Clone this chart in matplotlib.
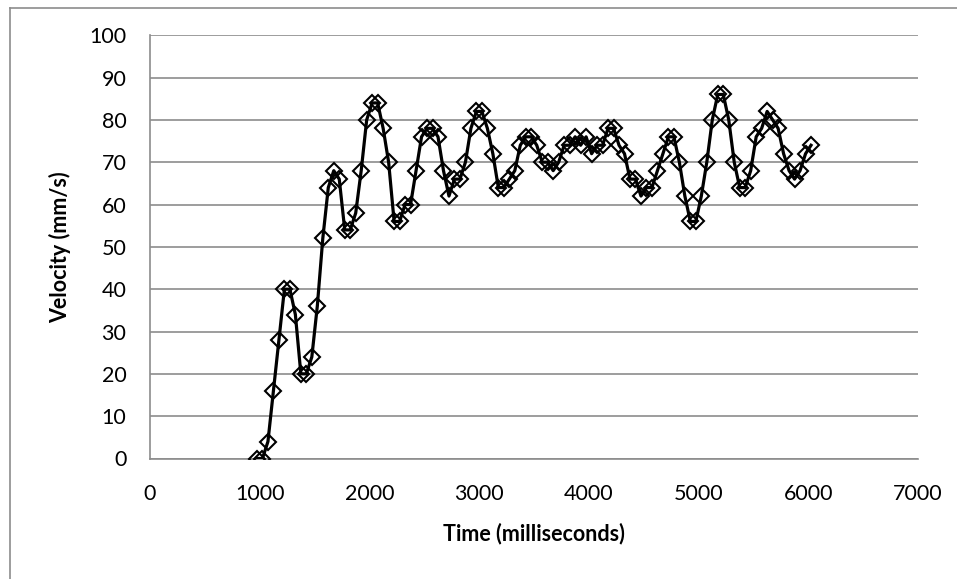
import matplotlib
matplotlib.use("Agg")
import matplotlib.pyplot as plt
from matplotlib.lines import Line2D

# Sample times (ms) and measured velocity (mm/s)
time_ms = [975, 1025, 1075, 1125, 1175, 1225, 1275, 1325, 1375, 1425,
           1475, 1525, 1575, 1625, 1675, 1725, 1775, 1825, 1875, 1925,
           1975, 2025, 2075, 2125, 2175, 2225, 2275, 2325, 2375, 2425,
           2475, 2525, 2575, 2625, 2675, 2725, 2775, 2825, 2875, 2925,
           2975, 3025, 3075, 3125, 3175, 3225, 3275, 3325, 3375, 3425,
           3475, 3525, 3575, 3625, 3675, 3725, 3775, 3825, 3875, 3925,
           3975, 4025, 4075, 4125, 4175, 4225, 4275, 4325, 4375, 4425,
           4475, 4525, 4575, 4625, 4675, 4725, 4775, 4825, 4875, 4925,
           4975, 5025, 5075, 5125, 5175, 5225, 5275, 5325, 5375, 5425,
           5475, 5525, 5575, 5625, 5675, 5725, 5775, 5825, 5875, 5925,
           5975, 6025]
velocity = [0, 0, 4, 16, 28, 40, 40, 34, 20, 20,
            24, 36, 52, 64, 68, 66, 54, 54, 58, 68,
            80, 84, 84, 78, 70, 56, 56, 60, 60, 68,
            76, 78, 78, 76, 68, 62, 66, 66, 70, 78,
            82, 82, 78, 72, 64, 64, 66, 68, 74, 76,
            76, 74, 70, 70, 68, 70, 74, 74, 76, 74,
            76, 72, 74, 74, 78, 78, 74, 72, 66, 66,
            62, 64, 64, 68, 72, 76, 76, 70, 62, 56,
            56, 62, 70, 80, 86, 86, 80, 70, 64, 64,
            68, 76, 78, 82, 80, 78, 72, 68, 66, 68,
            72, 74]

x_ticks = [0, 1000, 2000, 3000, 4000, 5000, 6000, 7000]
y_ticks = [0, 10, 20, 30, 40, 50, 60, 70, 80, 90, 100]

grid_gray = "#8c8c8c"

plt.rcParams["font.family"] = ["Lato", "DejaVu Sans"]

fig = plt.figure(figsize=(9.57, 5.79), dpi=100)
ax = fig.add_axes([150 / 957, 1 - 458.5 / 579, 768 / 957, 423.3 / 579])

ax.plot(time_ms, velocity, color="black", linewidth=2.3,
        marker="D", markersize=8.5, markerfacecolor="none",
        markeredgecolor="black", markeredgewidth=1.5, zorder=3)

ax.set_xlim(0, 7000)
ax.set_ylim(0, 100)
ax.set_xticks(x_ticks)
ax.set_yticks(y_ticks)
ax.tick_params(length=0, labelsize=15.5)
ax.tick_params(axis="y", pad=17)
ax.tick_params(axis="x", pad=18)

ax.grid(axis="y", color=grid_gray, linewidth=1.2)
ax.set_axisbelow(True)
for side in ["top", "right"]:
    ax.spines[side].set_visible(False)
for side in ["left", "bottom"]:
    ax.spines[side].set_color(grid_gray)
    ax.spines[side].set_linewidth(1.2)

ax.set_xlabel("Time (milliseconds)", fontsize=15.5, fontweight="bold", labelpad=14)
ax.set_ylabel("Velocity (mm/s)", fontsize=15.5, fontweight="bold", labelpad=13)

# chart frame (left and top edges)
fig.add_artist(Line2D([10 / 957, 10 / 957], [0, 1 - 8 / 579], color=grid_gray, linewidth=1.2))
fig.add_artist(Line2D([10 / 957, 1], [1 - 8 / 579, 1 - 8 / 579], color=grid_gray, linewidth=1.2))

fig.savefig("out.png", dpi=100)
